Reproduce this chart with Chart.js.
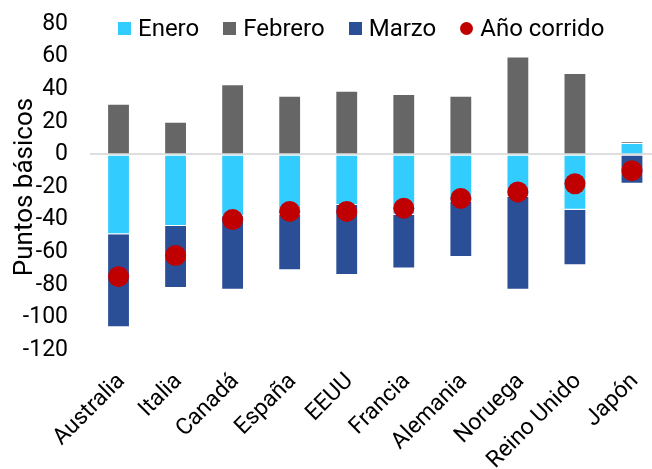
<!DOCTYPE html>
<html>
<head>
<meta charset="utf-8">
<script src="https://cdn.jsdelivr.net/npm/chart.js@4"></script>
<style>
  html, body { margin: 0; padding: 0; background: #fff; overflow: hidden; }
  #wrap { position: relative; width: 671px; height: 469px; }
  #legend { position: absolute; top: 16px; left: 118px; display: flex; font-family: Roboto, sans-serif; font-size: 24px; line-height: 24px; color: #000; white-space: nowrap; }
  #legend .item { display: flex; align-items: center; margin-right: 24px; }
  #legend .sw { width: 13px; height: 13px; margin-right: 7px; }
</style>
</head>
<body>
<div id="wrap">
  <canvas id="chart"></canvas>
  <div id="legend"></div>
</div>
<script>
const paises = ['Australia', 'Italia', 'Canadá', 'España', 'EEUU', 'Francia', 'Alemania', 'Noruega', 'Reino Unido', 'Japón'];
const enero = [-49, -44, -38, -37, -31, -37, -29, -26, -34, 7];
const febrero = [31, 20, 43, 36, 39, 37, 36, 60, 50, 1];
const marzo = [-57, -38, -45, -34, -43, -33, -34, -57, -34, -18];
const anioCorrido = [-75, -62, -40, -35, -35, -33, -27, -23, -18, -10];

const font = 'Roboto, sans-serif';
const edge = 'rgba(255,255,255,0.45)';

const ctx = document.getElementById('chart');

const chart = new Chart(ctx, {
  type: 'bar',
  data: {
    labels: paises,
    datasets: [{
      label: 'Enero',
      data: enero,
      backgroundColor: '#33CCFF',
      borderColor: edge,
      borderWidth: 1,
      order: 1
    },
    {
      label: 'Febrero',
      data: febrero,
      backgroundColor: '#666666',
      borderColor: edge,
      borderWidth: 1,
      order: 1
    },
    {
      label: 'Marzo',
      data: marzo,
      backgroundColor: '#2B4F96',
      borderColor: edge,
      borderWidth: 1,
      order: 1
    },
    {
      type: 'line',
      label: 'Año corrido',
      data: anioCorrido,
      stack: 'punto',
      showLine: false,
      pointRadius: 10.5,
      pointHoverRadius: 10.5,
      pointBackgroundColor: '#C00000',
      pointBorderWidth: 0,
      backgroundColor: '#C00000',
      order: 0
    }]
  },
  options: {
    responsive: true,
    maintainAspectRatio: false,
    animation: false,
    categoryPercentage: 1,
    barPercentage: 0.4,
    layout: { padding: { top: 24, right: 0, bottom: 0, left: 0 } },
    plugins: {
      legend: { display: false },
      tooltip: { enabled: false }
    },
    scales: {
      x: {
        stacked: true,
        grid: { display: false, drawTicks: false },
        border: { display: false },
        ticks: {
          font: { family: font, size: 23 },
          color: '#000',
          minRotation: 45,
          maxRotation: 45,
          autoSkip: false,
          labelOffset: 3,
          padding: 18
        },
        afterFit: (scale) => { scale.height = 119; }
      },
      y: {
        stacked: true,
        min: -120,
        max: 80,
        ticks: {
          stepSize: 20,
          font: { family: font, size: 23 },
          color: '#000',
          padding: 0
        },
        grid: {
          drawTicks: true,
          tickLength: 22,
          tickColor: 'transparent',
          lineWidth: 2,
          color: (c) => c.tick && c.tick.value === 0 ? '#dedede' : 'transparent'
        },
        border: { display: false },
        title: {
          display: true,
          text: 'Puntos básicos',
          font: { family: font, size: 26 },
          color: '#000',
          padding: { top: 10, bottom: 0 }
        },
        afterFit: (scale) => { scale.width = 90; }
      }
    }
  }
});

// leyenda en html, a partir de los datasets
const legend = document.getElementById('legend');
chart.data.datasets.forEach((ds) => {
  const item = document.createElement('div');
  item.className = 'item';
  const sw = document.createElement('span');
  sw.className = 'sw';
  sw.style.background = ds.type === 'line' ? ds.pointBackgroundColor : ds.backgroundColor;
  if (ds.type === 'line') sw.style.borderRadius = '50%';
  item.appendChild(sw);
  item.appendChild(document.createTextNode(ds.label));
  legend.appendChild(item);
});
</script>
</body>
</html>
